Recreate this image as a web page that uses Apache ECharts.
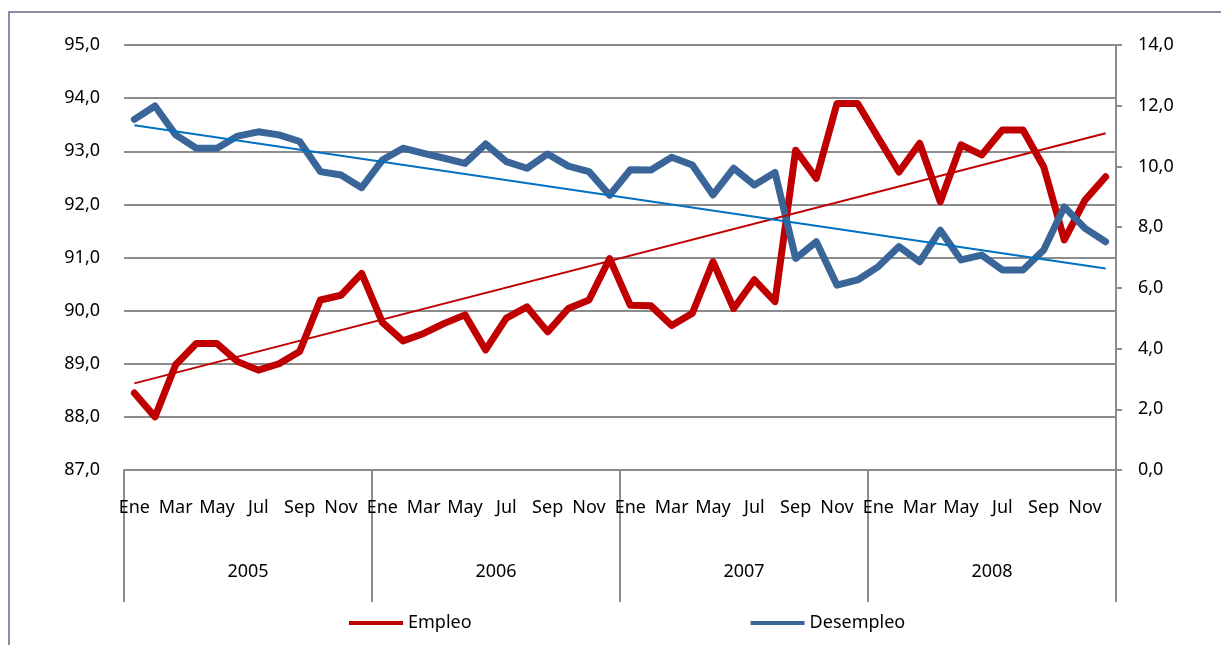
<!DOCTYPE html>
<html>
<head>
    <meta http-equiv="content-type" content="text/html;charset=utf-8" />
    <title>Empleo y desempleo</title>
    <script src="https://cdn.jsdelivr.net/npm/echarts@6/dist/echarts.min.js"></script>
    <style>
        html, body { margin: 0; padding: 0; background: #fff; }
    </style>
</head>
<body>
    <div id="main" style="width: 1221px;height:645px;"></div>
    <script type="text/javascript">
        // etiquetas del eje
        var years = ['2005', '2006', '2007', '2008'];
        var monthNames = ['Ene', 'Feb', 'Mar', 'Abr', 'May', 'Jun', 'Jul', 'Ago', 'Sep', 'Oct', 'Nov', 'Dic'];

        // Empleo (%), eje izquierdo
        var empleo = [
            88.45, 88.0, 88.98, 89.38, 89.38, 89.04, 88.88, 89.0, 89.23, 90.2, 90.29, 90.70,
            89.78, 89.43, 89.57, 89.76, 89.92, 89.26, 89.86, 90.07, 89.6, 90.04, 90.2, 90.98,
            90.1, 90.09, 89.72, 89.95, 90.92, 90.04, 90.58, 90.17, 93.02, 92.49, 93.9, 93.9,
            93.25, 92.61, 93.15, 92.05, 93.12, 92.93, 93.4, 93.4, 92.71, 91.33, 92.08, 92.52
        ];
        // Desempleo (%), eje derecho
        var desempleo = [
            11.55, 11.99, 11.04, 10.6, 10.6, 11.0, 11.14, 11.04, 10.82, 9.83, 9.72, 9.3,
            10.21, 10.6, 10.43, 10.27, 10.1, 10.74, 10.16, 9.94, 10.41, 10.01, 9.83, 9.05,
            9.89, 9.88, 10.3, 10.05, 9.06, 9.94, 9.39, 9.8, 6.97, 7.52, 6.09, 6.26,
            6.7, 7.36, 6.86, 7.9, 6.92, 7.08, 6.59, 6.59, 7.25, 8.67, 7.96, 7.52
        ];
        // lineas de tendencia: valor inicial y final
        var trendEmpleo = [88.63, 93.34];
        var trendDesempleo = [11.36, 6.64];

        var categories = [];
        for (var y = 0; y < years.length; y++) {
            for (var m = 0; m < monthNames.length; m++) {
                categories.push(monthNames[m] + ' ' + years[y]);
            }
        }
        var last = categories.length - 1;

        var FONT = 'Noto Sans';
        var GRID = '#8c8c8c';
        function coma(v) { return v.toFixed(1).replace('.', ','); }

        var myChart = echarts.init(document.getElementById('main'));
        var option = {
            backgroundColor: '#fff',
            animation: false,
            textStyle: { fontFamily: FONT },
            graphic: [{
                type: 'rect',
                shape: { x: 9, y: 12, width: 1240, height: 660 },
                style: { fill: 'none', stroke: '#8a8ea6', lineWidth: 2 },
                silent: true
            }],
            grid: { left: 124, right: 105, top: 45, bottom: 175 },
            legend: {
                left: 349,
                top: 614,
                padding: 0,
                itemGap: 279,
                itemWidth: 54,
                itemHeight: 4,
                icon: 'rect',
                textStyle: { fontFamily: FONT, fontSize: 18, color: '#000' },
                data: ['Empleo', 'Desempleo']
            },
            xAxis: [{
                type: 'category',
                data: categories,
                position: 'bottom',
                axisLine: { show: true, lineStyle: { color: GRID, width: 2 } },
                axisTick: { show: false },
                axisLabel: {
                    interval: 1,
                    margin: 29,
                    fontSize: 18,
                    color: '#000',
                    formatter: function (v) { return v.split(' ')[0]; }
                }
            }, {
                type: 'category',
                data: years,
                position: 'bottom',
                axisLine: { show: false },
                axisTick: { show: true, interval: 0, length: 132, lineStyle: { color: GRID, width: 2 } },
                axisLabel: { interval: 0, margin: 93, fontSize: 18, color: '#000' },
                splitLine: { show: false }
            }],
            yAxis: [{
                type: 'value',
                min: 87,
                max: 95,
                interval: 1,
                axisLine: { show: false },
                axisTick: { show: false },
                splitLine: { show: true, lineStyle: { color: GRID, width: 2 } },
                axisLabel: { margin: 24, fontSize: 18, color: '#000', formatter: coma }
            }, {
                type: 'value',
                position: 'right',
                min: 0,
                max: 14,
                interval: 2,
                axisLine: { show: true, lineStyle: { color: GRID, width: 2 } },
                axisTick: { show: true, length: 6, lineStyle: { color: GRID, width: 2 } },
                splitLine: { show: false },
                axisLabel: { margin: 22, fontSize: 18, color: '#000', formatter: coma }
            }],
            series: [{
                name: 'Empleo',
                type: 'line',
                xAxisIndex: 0,
                yAxisIndex: 0,
                data: empleo,
                showSymbol: false,
                symbol: 'none',
                color: '#C00000',
                lineStyle: { color: '#C00000', width: 7, cap: 'round', join: 'round' },
                z: 2,
                markLine: {
                    silent: true,
                    symbol: ['none', 'none'],
                    label: { show: false },
                    lineStyle: { color: '#C00000', width: 2, type: 'solid' },
                    data: [[{ coord: [0, trendEmpleo[0]] }, { coord: [last, trendEmpleo[1]] }]]
                }
            }, {
                name: 'Desempleo',
                type: 'line',
                xAxisIndex: 0,
                yAxisIndex: 1,
                data: desempleo,
                showSymbol: false,
                symbol: 'none',
                color: '#3A6599',
                lineStyle: { color: '#3A6599', width: 7, cap: 'round', join: 'round' },
                z: 3,
                markLine: {
                    silent: true,
                    symbol: ['none', 'none'],
                    label: { show: false },
                    lineStyle: { color: '#0070C0', width: 2, type: 'solid' },
                    data: [[{ coord: [0, trendDesempleo[0]] }, { coord: [last, trendDesempleo[1]] }]]
                }
            }]
        };
        myChart.setOption(option);
    </script>
</body>
</html>
